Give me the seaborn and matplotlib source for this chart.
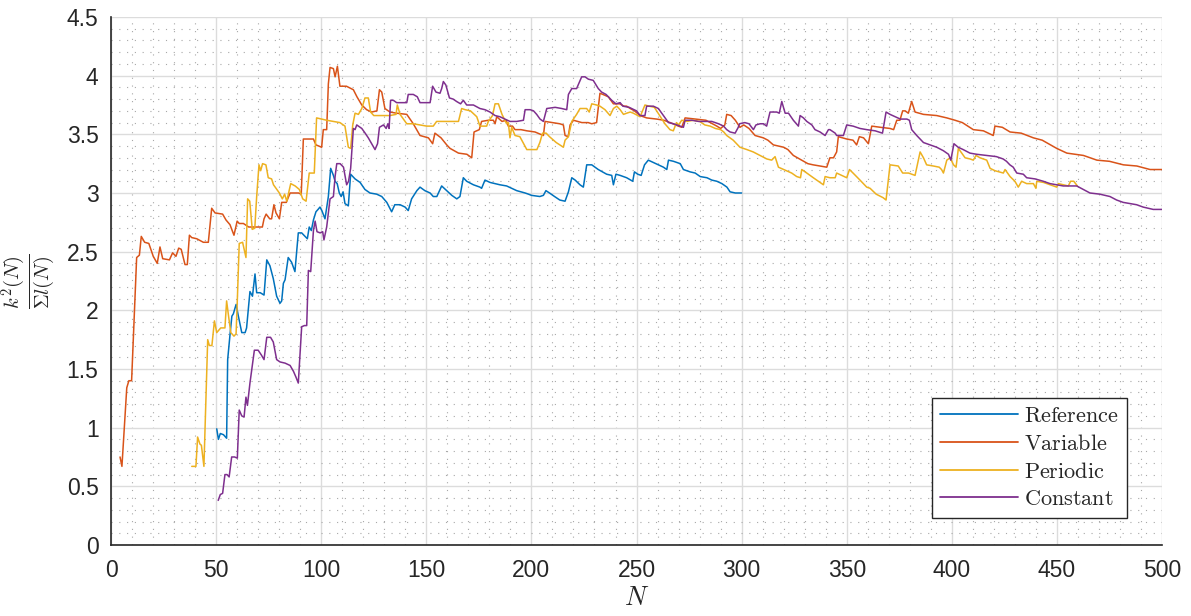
import numpy as np
import pandas as pd
import matplotlib
matplotlib.use("Agg")
import matplotlib.pyplot as plt
from matplotlib.ticker import MultipleLocator, FuncFormatter
import seaborn as sns

# ---- data: k^2(N) / sum l(N) for each boundary condition ----
reference_n = [50.3, 51.1, 52, 53.5, 55, 55.5, 56.6, 57.5, 58.2, 59.5, 60.6, 62.2, 63.8, 64.5, 66.1, 67.3, 68.5, 69.3, 71, 72.8,
               74.1, 75.6, 77.2, 78.8, 80.4, 81.2, 82, 82.8, 84.3, 85.9, 87.5, 89.1, 90.7, 92.3, 93.4, 94.3, 95.3, 96.3, 97.5, 98.5,
               99.4, 100.3, 101.8, 103.4, 104.5, 105.8, 106.6, 107.6, 108.6, 109.5, 110.4, 111.3, 112.9, 114, 116.1, 118.5, 120.8,
               123.2, 126.4, 128.8, 131.2, 133.5, 135, 137.5, 139.9, 141.4, 143, 145.5, 147, 149.3, 151.8, 153.3, 155, 157.3, 159.7,
               162.1, 164.5, 166, 167.6, 169.2, 172.4, 175.5, 176.3, 177.9, 180.3, 185, 188.2, 190.6, 193, 197, 198.6, 200, 204,
               205.7, 206.9, 208.6, 211, 213.5, 216, 217.6, 219.2, 220.8, 223.1, 224.7, 226.3, 228.7, 231.8, 235.8, 238.2, 239,
               240.2, 242.2, 245.3, 248.2, 249, 250.6, 252.2, 253.8, 255.6, 258, 260.4, 262.8, 264.4, 265.2, 267.6, 270.8, 272.3,
               275.5, 277.9, 280.3, 283.5, 285.8, 288.2, 290.6, 293, 294.5, 297, 300]
reference_k = [0.99, 0.90, 0.95, 0.94, 0.91, 1.58, 1.79, 1.95, 1.97, 2.05, 1.95, 1.81, 1.81, 1.85, 2.16, 2.12, 2.31, 2.15, 2.15, 2.13,
               2.43, 2.38, 2.27, 2.12, 2.06, 2.08, 2.23, 2.26, 2.45, 2.41, 2.33, 2.66, 2.66, 2.63, 2.61, 2.71, 2.68, 2.77, 2.84, 2.86,
               2.88, 2.85, 2.78, 2.97, 3.21, 3.15, 3.10, 3.08, 3.00, 2.97, 3.01, 2.91, 2.89, 3.16, 3.12, 3.09, 3.03,
               3.00, 2.99, 2.97, 2.92, 2.84, 2.90, 2.90, 2.88, 2.85, 2.95, 3.02, 3.05, 3.02, 3.00, 2.97, 2.97, 3.06, 3.02,
               2.98, 2.95, 2.97, 3.13, 3.10, 3.07, 3.05, 3.04, 3.11, 3.09, 3.07, 3.06, 3.04, 3.02, 3.00, 2.99, 2.98, 2.97,
               2.98, 3.02, 3.00, 2.97, 2.94, 2.93, 3.01, 3.13, 3.11, 3.07, 3.05, 3.24, 3.24, 3.20, 3.16, 3.15, 3.07,
               3.16, 3.15, 3.13, 3.10, 3.18, 3.16, 3.15, 3.24, 3.28, 3.26, 3.24, 3.22, 3.20, 3.28, 3.27, 3.25, 3.20,
               3.18, 3.17, 3.14, 3.13, 3.11, 3.10, 3.08, 3.05, 3.01, 3.00, 3.00]

variable_n = [4.3, 5.2, 7.5, 8.5, 9.8, 12.2, 13.5, 14.4, 16, 18, 20.1, 22, 23.3, 24.6, 27.8, 29.3, 30.9, 32.2, 33.4, 35.2, 36.3,
              37.3, 38.4, 40.8, 43.9, 46.3, 47.9, 49.5, 53.1, 54.7, 56.6, 58.5, 60, 61, 63, 65.5, 69.4, 72, 72.8, 73.8, 75.5,
              76.4, 77.5, 78.5, 80.1, 81.2, 83.4, 85.2, 89.2, 90.5, 91.5, 96.3, 97.5, 100.2, 101, 102.6, 103.4, 104.2, 105.8,
              106.6, 107.7, 108.9, 112, 115.3, 117, 119.3, 121.6, 124, 126.5, 127.7, 128.8, 130.3, 132.7, 135.9, 140.7, 143.8,
              147, 151, 153, 154.1, 157, 159.7, 161.3, 165.3, 169.3, 171.6, 172.7, 175.2, 176.3, 179.5, 181.9, 182.7, 183.5,
              186, 188, 189, 191, 192.2, 195, 197.8, 201.7, 205.7, 206.5, 210, 213.5, 215.2, 216, 217.5, 218.4, 220, 224, 227,
              228.7, 231, 232.6, 234, 236.6, 239, 242, 244, 245.3, 247, 249, 251.7, 254.8, 259.6, 263, 266, 269.9, 271.5, 273.1,
              278, 283, 288.2, 290, 292, 292.9, 295, 297, 299.2, 301, 303.5, 306.4, 310.3, 312.5, 315.1, 320, 322, 324.6, 328.6,
              331.5, 334, 337.3, 340.5, 342, 343.7, 345.2, 346, 350, 353, 354.7, 356, 358, 360.3, 361.9, 366, 370.6, 372.3,
              373.8, 375.3, 376.6, 377.8, 379.3, 380.9, 382.5, 386.5, 392.8, 397.6, 401.5, 405, 410.2, 415, 419.7, 420.5, 424,
              427.7, 433, 438.8, 443, 449.9, 454.7, 462.6, 469, 475, 481.6, 488, 494.3, 500]
variable_k = [0.75, 0.67, 1.34, 1.40, 1.40, 2.45, 2.47, 2.63, 2.58, 2.57, 2.46, 2.40, 2.54, 2.44, 2.43, 2.49, 2.46, 2.53, 2.52, 2.39, 2.39,
              2.64, 2.62, 2.61, 2.58, 2.58, 2.87, 2.83, 2.82, 2.77, 2.73, 2.64, 2.76, 2.74, 2.74, 2.71, 2.71, 2.71, 2.78, 2.82, 2.78,
              2.78, 2.90, 2.83, 2.78, 2.92, 2.92, 3.00, 3.00, 2.99, 3.46, 3.46, 3.41, 3.39, 3.54, 3.54, 3.93, 4.07, 4.06,
              3.99, 4.08, 3.91, 3.91, 3.88, 3.82, 3.75, 3.71, 3.69, 3.70, 3.88, 3.86, 3.72, 3.69, 3.68, 3.67, 3.59,
              3.49, 3.47, 3.42, 3.51, 3.47, 3.41, 3.38, 3.34, 3.33, 3.30, 3.52, 3.54, 3.61, 3.62, 3.62, 3.59, 3.65,
              3.61, 3.62, 3.57, 3.57, 3.54, 3.54, 3.53, 3.52, 3.49, 3.61, 3.60, 3.59, 3.58, 3.49, 3.48, 3.58, 3.62, 3.60, 3.60,
              3.59, 3.60, 3.85, 3.84, 3.82, 3.76, 3.76, 3.74, 3.74, 3.72, 3.70, 3.66, 3.64, 3.63, 3.62, 3.60, 3.57, 3.56, 3.64,
              3.63, 3.62, 3.57, 3.55, 3.58, 3.67, 3.66, 3.62, 3.56, 3.58, 3.55, 3.49, 3.47, 3.45, 3.41, 3.39, 3.37, 3.32, 3.28,
              3.25, 3.24, 3.23, 3.22, 3.30, 3.30, 3.35, 3.48, 3.46, 3.45, 3.41, 3.48, 3.47, 3.42, 3.57, 3.56, 3.55, 3.54,
              3.62, 3.62, 3.70, 3.70, 3.68, 3.78, 3.69, 3.67, 3.66, 3.64, 3.62, 3.60, 3.54, 3.53, 3.49, 3.57, 3.56,
              3.52, 3.51, 3.47, 3.45, 3.38, 3.34, 3.32, 3.28, 3.27, 3.24, 3.23, 3.20, 3.20]

periodic_n = [38.4, 40.4, 41.2, 42.3, 43, 44.2, 46, 46.8, 48, 49.2, 50.3, 52.2, 54.2, 55, 56, 57, 58.5, 59.5, 60.1, 61, 62.6, 64.2,
              65, 66, 67.2, 68.4, 69.3, 70.4, 71.2, 72.1, 73.7, 74.8, 76.4, 77.3, 78.5, 80.1, 81.5, 82.6, 83.6, 85.5, 87.6, 89.6,
              91.2, 92.8, 94.3, 96.7, 97.8, 102.6, 108.9, 111.3, 112.9, 114, 115, 116.1, 117.7, 119.3, 120.8, 122.4, 123.5, 125,
              128, 132.7, 135.6, 136.2, 137.5, 140.7, 143.8, 147, 150.2, 153.3, 154.9, 157, 162.5, 165.3, 166.8, 168.5, 171, 174,
              175.5, 178.7, 179.5, 181.5, 182.7, 184.3, 186, 188.2, 189, 189.8, 190.6, 192.2, 194.5, 196, 197.8, 202.6, 204,
              205.3, 207, 208.6, 211.8, 215.2, 216, 217.6, 219.2, 221.5, 223.1, 226.3, 227.5, 228.7, 231, 232.6, 235, 237.4,
              239, 240.6, 242.2, 243.8, 245.3, 247, 248.5, 251.7, 254, 256, 258.5, 261, 263.5, 265.9, 267.5, 269, 270, 271.5,
              274, 277, 280, 282.5, 285, 287.5, 290, 291.5, 292.9, 296, 299.2, 302.5, 305.5, 308.8, 312, 314.3, 315.9, 317.5,
              320, 323.8, 326.2, 328, 328.6, 331, 334.1, 337.3, 338.9, 339.7, 342, 344.5, 345.2, 347.6, 350, 351.3, 353, 356.3,
              359.5, 361.1, 364, 367.3, 368.7, 370.6, 374.5, 376.6, 379.4, 382.5, 383.7, 384.9, 386.5, 388, 391.2, 394, 395.1,
              396, 397.6, 399.2, 400.8, 402, 403.1, 404.7, 406.3, 408.7, 410.2, 411.5, 413.4, 416.6, 418.2, 420.5, 424.5, 425.3,
              427.7, 430, 431.6, 433.2, 435.6, 438.8, 440, 440.4, 443.6, 446.8, 449.9, 450.7, 453, 455.4, 456.5, 458, 459.7]
periodic_k = [0.67, 0.67, 0.92, 0.86, 0.85, 0.67, 1.75, 1.70, 1.70, 1.91, 1.81, 1.85, 1.85, 2.08, 1.94, 1.81, 1.78, 1.80, 2.09, 2.57, 2.58, 2.45,
              2.95, 2.93, 2.69, 2.70, 2.97, 3.24, 3.19, 3.25, 3.24, 3.13, 3.12, 3.07, 3.04, 3.00, 2.95, 2.99, 2.93, 3.08, 3.06, 3.03,
              2.95, 2.93, 3.17, 3.17, 3.64, 3.62, 3.60, 3.57, 3.39, 3.38, 3.58, 3.68, 3.67, 3.72, 3.81, 3.81, 3.69, 3.66,
              3.66, 3.66, 3.67, 3.75, 3.67, 3.59, 3.59, 3.58, 3.57, 3.57, 3.61, 3.61, 3.61, 3.61, 3.72, 3.71, 3.70, 3.65,
              3.57, 3.57, 3.61, 3.66, 3.76, 3.76, 3.67, 3.59, 3.60, 3.47, 3.56, 3.49, 3.48, 3.43, 3.37, 3.37, 3.43,
              3.51, 3.51, 3.48, 3.43, 3.39, 3.45, 3.48, 3.61, 3.67, 3.72, 3.72, 3.69, 3.76, 3.75, 3.74, 3.71, 3.66,
              3.72, 3.74, 3.71, 3.67, 3.68, 3.69, 3.68, 3.65, 3.75, 3.74, 3.73, 3.66, 3.59, 3.54, 3.53, 3.60, 3.58, 3.62,
              3.61, 3.62, 3.61, 3.58, 3.57, 3.55, 3.54, 3.52, 3.49, 3.45, 3.39, 3.37, 3.35, 3.32, 3.29, 3.28, 3.31, 3.22,
              3.20, 3.17, 3.14, 3.13, 3.20, 3.17, 3.13, 3.09, 3.07, 3.14, 3.13, 3.13, 3.17, 3.15, 3.13, 3.20, 3.17, 3.11,
              3.05, 3.04, 2.99, 2.96, 2.94, 3.24, 3.23, 3.17, 3.17, 3.15, 3.25, 3.35, 3.30, 3.24, 3.23, 3.22, 3.20,
              3.17, 3.28, 3.30, 3.24, 3.22, 3.38, 3.34, 3.30, 3.29, 3.28, 3.32, 3.30, 3.28, 3.21, 3.19, 3.17, 3.20,
              3.14, 3.10, 3.05, 3.10, 3.08, 3.08, 3.04, 3.10, 3.09, 3.07, 3.05, 3.08, 3.07, 3.06, 3.10, 3.10, 3.06]

constant_n = [51, 52, 53.1, 54.2, 55.2, 56.2, 57.4, 58.8, 60.1, 61, 62.2, 63.3, 64.2, 64.9, 66.1, 68.2, 70, 71.5, 72.8, 74.1, 75.9,
              77.2, 78.8, 80.4, 82.8, 85.2, 86.8, 88, 89.1, 90.7, 92, 93.1, 93.9, 95, 96.3, 97.1, 98, 99.5, 100.7, 101.3, 102.6,
              104.2, 105.8, 106.6, 107.4, 109, 110.6, 112.1, 113, 114, 115.3, 116.1, 116.9, 119.3, 120.9, 122.4, 124, 125.6,
              126.8, 127.7, 129.6, 130.9, 131.7, 132.3, 133, 134.3, 135.9, 137.5, 140.7, 141.4, 143.8, 145.7, 147, 151.8, 153,
              154.6, 156.5, 157.3, 158.1, 159.3, 161, 162.8, 164.4, 166.3, 167.6, 169.2, 172.4, 175.5, 177.9, 180.3, 182.7, 185,
              187.4, 189.8, 193, 196.2, 197, 199.4, 201, 202.5, 204.1, 205.7, 207.3, 211.3, 214.4, 216.8, 217.6, 219.2, 221.5,
              223.9, 225.5, 227.1, 229.4, 231.8, 233.4, 235.5, 238.2, 240.2, 242.2, 243.5, 246.5, 250, 251.7, 254, 254.8, 258,
              260.4, 262.8, 265.2, 267.6, 270.8, 272.3, 273.1, 276.3, 279.5, 282.7, 285.8, 289, 291.4, 292.9, 294.5, 296.9,
              298.4, 299, 301.5, 303.5, 305.6, 306.8, 308.8, 310.4, 311.9, 313.5, 316.7, 317.9, 319.1, 320.7, 322.3, 324.6, 327,
              327.8, 329.4, 331, 333.4, 334.9, 337.3, 339.7, 341.3, 342, 344.5, 345.2, 348.4, 350, 353, 356.3, 359.5, 363.5,
              367, 368.7, 370.6, 373, 375.5, 378.6, 379.8, 380.9, 383.3, 384.9, 386.5, 389.6, 392.8, 396, 398.4, 399.5, 401,
              403, 405.4, 408.6, 411.8, 416.5, 421.2, 424.4, 426, 427.6, 429.2, 430.9, 434, 435.6, 439.6, 443.5, 446.7, 449.9,
              453, 459.4, 462.5, 465.7, 470.4, 475.2, 478.4, 481.5, 487.9, 491, 495.8, 500]
constant_k = [0.38, 0.43, 0.44, 0.60, 0.60, 0.58, 0.75, 0.75, 0.74, 1.15, 1.10, 1.09, 1.26, 1.19, 1.38, 1.66, 1.66, 1.62, 1.58, 1.77, 1.77,
              1.73, 1.58, 1.56, 1.55, 1.53, 1.48, 1.43, 1.38, 1.86, 1.87, 1.87, 2.34, 2.33, 2.68, 2.76, 2.67, 2.66, 2.67, 2.60, 2.71,
              2.95, 2.97, 3.14, 3.25, 3.25, 3.22, 3.07, 3.10, 3.21, 3.55, 3.54, 3.58, 3.55, 3.51, 3.47, 3.42, 3.37,
              3.42, 3.56, 3.58, 3.55, 3.59, 3.55, 3.79, 3.79, 3.77, 3.77, 3.77, 3.84, 3.84, 3.82, 3.77, 3.77, 3.91,
              3.86, 3.85, 3.89, 3.95, 3.92, 3.81, 3.80, 3.78, 3.76, 3.79, 3.75, 3.75, 3.72, 3.71, 3.69, 3.66, 3.65,
              3.63, 3.61, 3.61, 3.62, 3.71, 3.71, 3.70, 3.67, 3.63, 3.61, 3.72, 3.73, 3.72, 3.71, 3.84, 3.89, 3.89,
              3.99, 3.99, 3.97, 3.96, 3.89, 3.86, 3.84, 3.79, 3.76, 3.77, 3.74, 3.73, 3.70, 3.66, 3.66, 3.74, 3.74,
              3.72, 3.66, 3.60, 3.59, 3.57, 3.56, 3.62, 3.62, 3.61, 3.61, 3.61, 3.59, 3.57, 3.54, 3.52, 3.51,
              3.56, 3.59, 3.60, 3.59, 3.54, 3.58, 3.59, 3.59, 3.57, 3.69, 3.69, 3.68, 3.78, 3.68, 3.68, 3.62, 3.57,
              3.66, 3.64, 3.61, 3.58, 3.54, 3.52, 3.49, 3.54, 3.54, 3.51, 3.49, 3.49, 3.58, 3.57, 3.55, 3.54, 3.53,
              3.51, 3.69, 3.67, 3.65, 3.63, 3.63, 3.62, 3.54, 3.49, 3.46, 3.43, 3.41, 3.39, 3.36, 3.33, 3.28, 3.42,
              3.39, 3.37, 3.34, 3.33, 3.32, 3.31, 3.29, 3.27, 3.24, 3.22, 3.17, 3.16, 3.13, 3.12, 3.10, 3.08, 3.07,
              3.06, 3.06, 3.03, 3.00, 2.99, 2.97, 2.94, 2.92, 2.90, 2.88, 2.86, 2.86]

series_names = ["Reference", "Variable", "Periodic", "Constant"]
series_colors = ["#0072BD", "#D95319", "#EDB120", "#7E2F8E"]
x_ticks = list(range(0, 501, 50))
y_ticks = [0, 0.5, 1, 1.5, 2, 2.5, 3, 3.5, 4, 4.5]

frames = []
for name, n, k in zip(series_names,
                      [reference_n, variable_n, periodic_n, constant_n],
                      [reference_k, variable_k, periodic_k, constant_k]):
    frames.append(pd.DataFrame({"N": n, "ratio": k, "series": name}))
df = pd.concat(frames, ignore_index=True)

# ---- styling ----
sns.set_theme(style="white")
plt.rcParams["font.family"] = ["Liberation Sans", "DejaVu Sans"]
plt.rcParams["mathtext.fontset"] = "cm"

fig = plt.figure(figsize=(11.91, 6.16), dpi=100)
ax = fig.add_axes([0.0932, 0.1153, 0.8825, 0.8571])

sns.lineplot(data=df, x="N", y="ratio", hue="series", hue_order=series_names,
             palette=dict(zip(series_names, series_colors)), estimator=None,
             sort=False, units="series", linewidth=1.1, legend=False, ax=ax)

ax.set_xlim(0, 500)
ax.set_ylim(0, 4.5)
ax.set_xticks(x_ticks)
ax.set_yticks(y_ticks)
ax.xaxis.set_minor_locator(MultipleLocator(10))
ax.yaxis.set_minor_locator(MultipleLocator(0.1))
fmt = FuncFormatter(lambda v, p: f"{v:g}")
ax.xaxis.set_major_formatter(fmt)
ax.yaxis.set_major_formatter(fmt)

ax.grid(which="major", color="#dcdcdc", linewidth=1.0, linestyle="-")
ax.grid(which="minor", color="#a8a8a8", linewidth=0.8, linestyle=(0, (1, 6)))
ax.set_axisbelow(True)

for side in ["top", "right"]:
    ax.spines[side].set_visible(False)
for side in ["left", "bottom"]:
    ax.spines[side].set_color("#262626")
    ax.spines[side].set_linewidth(1.2)

ax.tick_params(which="major", direction="in", length=8, width=1.2, colors="#262626",
               labelsize=16.5)
ax.tick_params(axis="x", which="major", pad=10)
ax.tick_params(axis="y", which="major", pad=9)
ax.tick_params(which="minor", length=0)

ax.set_xlabel(r"$N$", fontsize=19, labelpad=3, color="#262626")
ax.set_ylabel(r"$\frac{k^2(N)}{\Sigma l(N)}$", fontsize=21, labelpad=6, color="#262626")

handles = [plt.Line2D([], [], color=c, linewidth=1.3) for c in series_colors]
labels = [r"$\mathrm{" + s + "}$" for s in series_names]
leg = ax.legend(handles, labels, loc="lower right", bbox_to_anchor=(0.9666, 0.051),
                borderaxespad=0, fontsize=16, frameon=True, fancybox=False,
                handlelength=3.5, handletextpad=0.3, labelspacing=0.3,
                borderpad=0.35)
leg.get_frame().set_edgecolor("#262626")
leg.get_frame().set_linewidth(1.0)
leg.get_frame().set_alpha(1)

fig.savefig("out.png", dpi=100)
